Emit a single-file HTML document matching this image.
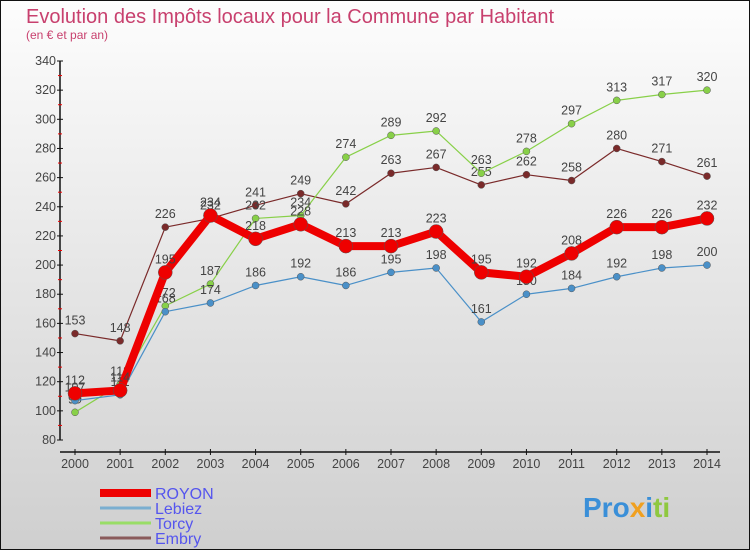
<!DOCTYPE html>
<html><head><meta charset="utf-8"><style>
body{margin:0;width:750px;height:550px;overflow:hidden;font-family:"Liberation Sans",sans-serif}
svg{display:block}
</style></head><body>
<svg width="750" height="550" viewBox="0 0 750 550">
<defs><linearGradient id="bg" x1="0" y1="0" x2="0" y2="1"><stop offset="0" stop-color="#fdfdfd"/><stop offset="1" stop-color="#cfcfcf"/></linearGradient></defs>
<rect x="0.5" y="0.5" width="749" height="549" fill="url(#bg)" stroke="#111"/>
<text x="26" y="23" font-size="20" fill="#c8406e">Evolution des Impôts locaux pour la Commune par Habitant</text>
<text x="26" y="39" font-size="12" fill="#c8406e">(en € et par an)</text>
<g id="axes"></g>
<g id="series"></g>
<g id="legend"></g>
<text x="583" y="517" font-size="28" font-weight="bold" fill="#3a8fd8">Pro<tspan fill="#f0a020">x</tspan><tspan fill="#3a8fd8">i</tspan><tspan fill="#8fc840">ti</tspan></text>
</svg>
<script>
const years=[2000,2001,2002,2003,2004,2005,2006,2007,2008,2009,2010,2011,2012,2013,2014];
const royon=[112,114,195,234,218,228,213,213,223,195,192,208,226,226,232];
const lebiez=[107,111,168,174,186,192,186,195,198,161,180,184,192,198,200];
const torcy=[99,118,172,187,232,234,274,289,292,263,278,297,313,317,320];
const embry=[153,148,226,232,241,249,242,263,267,255,262,258,280,271,261];
const yTicks=[80,100,120,140,160,180,200,220,240,260,280,300,320,340];
const NS="http://www.w3.org/2000/svg";
const X=i=>75+i*(707-75)/14;
const Y=v=>440-(v-80)*(379/260);
function mk(t,a,p){const e=document.createElementNS(NS,t);for(const k in a)e.setAttribute(k,a[k]);p.appendChild(e);return e;}
const ax=document.getElementById('axes');
let l=mk('line',{x1:60,y1:61,x2:60,y2:440,stroke:'#111','stroke-width':1.5},ax);


l=mk('line',{x1:60,y1:452,x2:720,y2:452,stroke:'#111','stroke-width':1.5},ax);


yTicks.forEach((v,i)=>{
  mk('line',{x1:57,y1:Y(v),x2:63,y2:Y(v),stroke:'#111'},ax);
  if(i<yTicks.length-1)mk('line',{x1:58,y1:Y(v+10),x2:62,y2:Y(v+10),stroke:'#e00'},ax);
  const t=mk('text',{x:56,y:Y(v)+4,'font-size':12.5,'text-anchor':'end',fill:'#444'},ax);t.textContent=v;
  
  
});
years.forEach((yr,i)=>{
  mk('line',{x1:X(i),y1:449,x2:X(i),y2:455,stroke:'#111'},ax);
  const t=mk('text',{x:X(i),y:468,'font-size':12.5,'text-anchor':'middle',fill:'#444'},ax);t.textContent=yr;
  
  
});
const sg=document.getElementById('series');
const series=[
 {n:'embry',d:embry,c:'#7a2a2a',w:1.2,r:3.5},
 {n:'torcy',d:torcy,c:'#88d048',w:1.2,r:3.5},
 {n:'lebiez',d:lebiez,c:'#4a90c8',w:1.2,r:3.5},
 {n:'royon',d:royon,c:'#ee0000',w:8,r:7}];
series.forEach(s=>{
  const g=mk('g',{},sg);
  
  
  const p=mk('polyline',{points:s.d.map((v,i)=>X(i)+','+Y(v)).join(' '),fill:'none',stroke:s.c,'stroke-width':s.w,'stroke-linejoin':'round'},g);
  
  
  s.d.forEach((v,i)=>{
    const c=mk('circle',{cx:X(i),cy:Y(v),r:s.r,fill:s.c,stroke:'#555','stroke-width':0.5},g);
    
    
    const t=mk('text',{x:X(i),y:Y(v)-9,'font-size':12.5,'text-anchor':'middle',fill:'#444'},g);t.textContent=v;
    
    
  });
});
const lg=document.getElementById('legend');
const leg=[['ROYON','#ee0000',8],['Lebiez','#7aaed0',3],['Torcy','#99dd66',3],['Embry','#8a5a5a',3]];
leg.forEach((e,i)=>{
  const y=493+i*15;
  const g=mk('g',{},lg);
  
  
  mk('line',{x1:100,y1:y,x2:151,y2:y,stroke:e[1],'stroke-width':e[2]},g);
  const t=mk('text',{x:155,y:y+6,'font-size':16,fill:'#5555ee'},g);t.textContent=e[0];
});
</script>
</body></html>
